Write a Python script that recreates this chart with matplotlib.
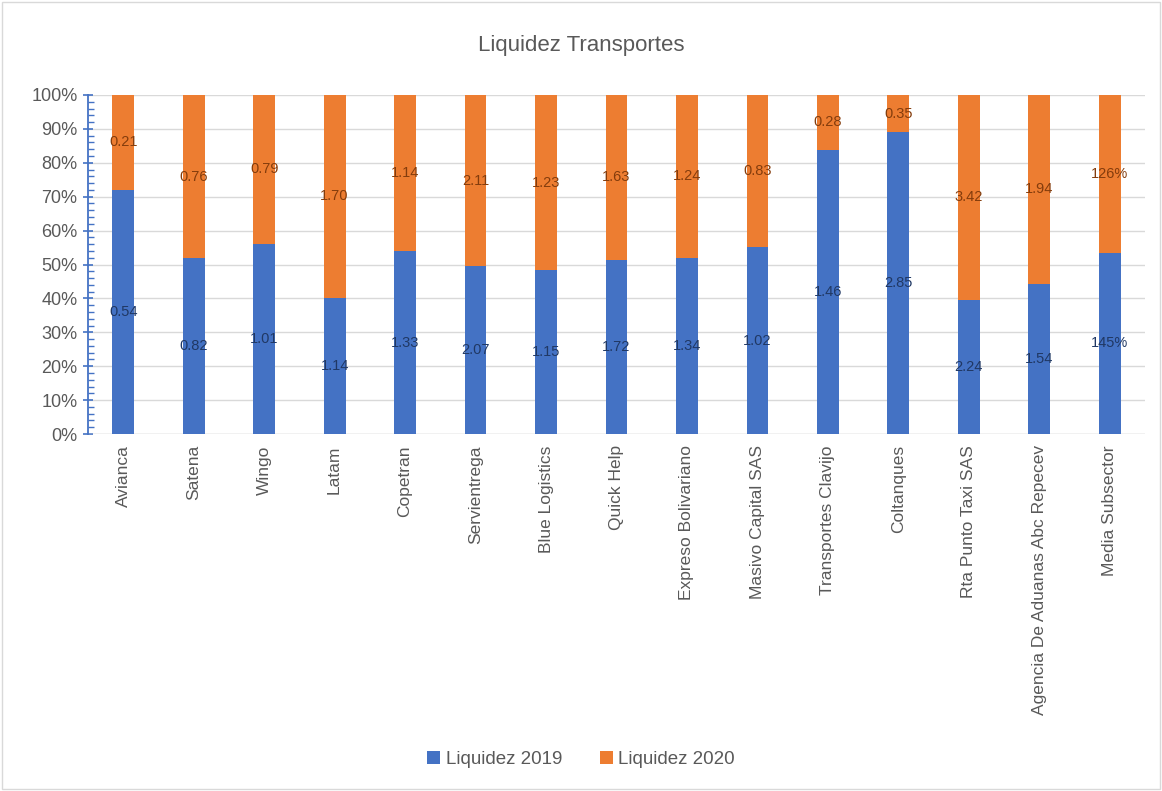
import matplotlib
matplotlib.use("Agg")
import matplotlib.pyplot as plt
import numpy as np
from matplotlib.ticker import MultipleLocator, PercentFormatter
from matplotlib.patches import Rectangle

plt.rcParams["font.family"] = ["Liberation Sans", "DejaVu Sans"]

categories = ["Avianca", "Satena", "Wingo", "Latam", "Copetran", "Servientrega",
              "Blue Logistics", "Quick Help", "Expreso Bolivariano", "Masivo Capital SAS",
              "Transportes Clavijo", "Coltanques", "Rta Punto Taxi SAS",
              "Agencia De Aduanas Abc Repecev", "Media Subsector"]
liq_2019 = [0.54, 0.82, 1.01, 1.14, 1.33, 2.07, 1.15, 1.72, 1.34, 1.02, 1.46, 2.85, 2.24, 1.54, 1.45]
liq_2020 = [0.21, 0.76, 0.79, 1.70, 1.14, 2.11, 1.23, 1.63, 1.24, 0.83, 0.28, 0.35, 3.42, 1.94, 1.26]
labels_2019 = ["0.54", "0.82", "1.01", "1.14", "1.33", "2.07", "1.15", "1.72", "1.34", "1.02", "1.46", "2.85", "2.24", "1.54", "145%"]
labels_2020 = ["0.21", "0.76", "0.79", "1.70", "1.14", "2.11", "1.23", "1.63", "1.24", "0.83", "0.28", "0.35", "3.42", "1.94", "126%"]
series_names = ["Liquidez 2019", "Liquidez 2020"]

blue = "#4472C4"
orange = "#ED7D31"
gray = "#595959"

fig = plt.figure(figsize=(11.62, 7.91), dpi=100)
ax = fig.add_axes([0.0757, 0.4513, 0.9097, 0.4286])

a = np.array(liq_2019)
b = np.array(liq_2020)
tot = a + b
pa = a / tot * 100
pb = b / tot * 100
x = np.arange(len(categories))
w = 0.31
bars1 = ax.bar(x, pa, width=w, color=blue, label=series_names[0], zorder=3)
bars2 = ax.bar(x, pb, width=w, bottom=pa, color=orange, label=series_names[1], zorder=3)

for i in range(len(x)):
    ax.text(x[i], pa[i] / 2, labels_2019[i], ha="center", va="center",
            fontsize=10.5, color="#203864", zorder=4)
    ax.text(x[i], pa[i] + pb[i] / 2, labels_2020[i], ha="center", va="center",
            fontsize=10.5, color="#843C0C", zorder=4)

ax.set_xlim(-0.5, len(categories) - 0.5)
ax.set_ylim(0, 100)
ax.yaxis.set_major_locator(MultipleLocator(10))
ax.yaxis.set_minor_locator(MultipleLocator(2))
ax.yaxis.set_major_formatter(PercentFormatter(decimals=0))
ax.grid(axis="y", color="#D9D9D9", linewidth=1, zorder=0)
ax.set_axisbelow(True)
for s in ["top", "right", "bottom"]:
    ax.spines[s].set_visible(False)
ax.spines["left"].set_color(blue)
ax.spines["left"].set_linewidth(1.3)
ax.axhline(0, color="#D9D9D9", linewidth=1, zorder=1)
ax.tick_params(axis="y", which="major", direction="inout", length=7, color=blue,
               width=1.2, labelsize=13, labelcolor=gray, pad=4)
ax.tick_params(axis="y", which="minor", direction="in", length=4, color=blue, width=1)
ax.set_xticks(x)
ax.set_xticklabels(categories, rotation=90, fontsize=12.5, color=gray)
ax.tick_params(axis="x", length=0, pad=8)

fig.text(0.5, 0.942, "Liquidez Transportes", ha="center", va="center", fontsize=16, color=gray)

leg = fig.legend(handles=[bars1, bars2], labels=series_names, loc="center",
                 bbox_to_anchor=(0.5, 0.04), ncol=2, frameon=False, fontsize=13.5,
                 handlelength=0.7, handleheight=0.7, columnspacing=2.0, handletextpad=0.3)
for t in leg.get_texts():
    t.set_color(gray)

fig.add_artist(Rectangle((0.002, 0.002), 0.996, 0.996, transform=fig.transFigure,
                         fill=False, edgecolor="#D9D9D9", linewidth=1))

fig.savefig("out.png", dpi=100)
